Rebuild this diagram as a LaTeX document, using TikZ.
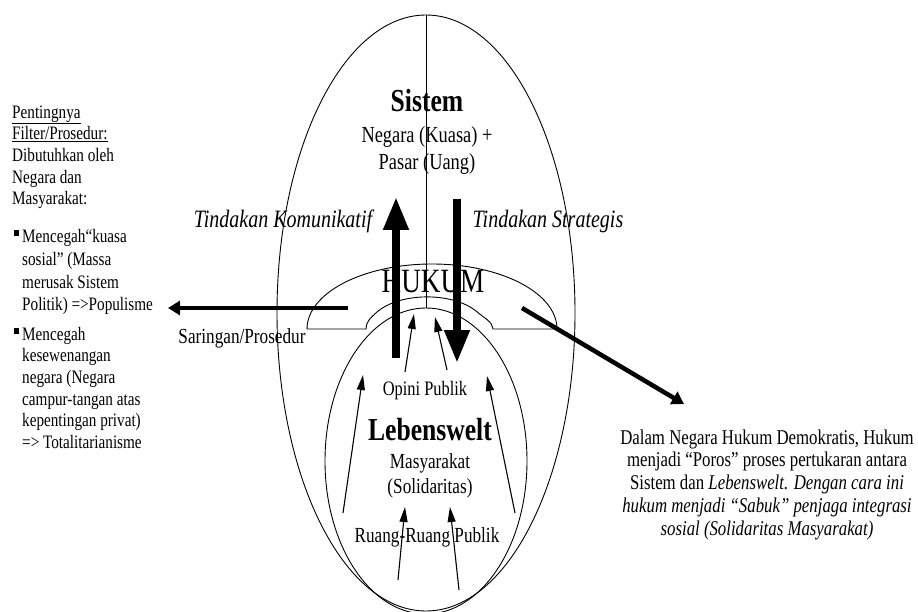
\documentclass[tikz,border=0pt]{standalone}
\usepackage{fontspec}
\setmainfont{Liberation Serif}[FakeStretch=0.8]
\usetikzlibrary{arrows.meta, shapes.geometric, positioning}

\begin{document}
\begin{tikzpicture}[x=1pt, y=-1pt,
    lbl/.style={inner sep=0pt, anchor=base, font=\fontsize{21.5}{25}\selectfont},
    ttl/.style={inner sep=0pt, anchor=base, font=\bfseries\fontsize{32}{36}\selectfont},
    act/.style={inner sep=0pt, anchor=base, font=\itshape\fontsize{25}{30}\selectfont},
    side/.style={inner sep=0pt, anchor=base west, align=left, font=\fontsize{19}{21.7}\selectfont},
    sq/.style={fill, inner sep=0pt, minimum width=4.5pt, minimum height=6pt},
    oval/.style={draw, ellipse, line width=0.9pt, inner sep=0pt, outer sep=0pt},
    fat/.style={line width=7.5pt, -{Triangle[length=33pt, width=24pt]}},
    flow/.style={line width=4.5pt, -{Triangle[length=12pt, width=14pt]}},
    feed/.style={line width=1.1pt, -{Triangle[length=15pt, width=8pt]}}]
                        \useasboundingbox (0,0) rectangle (918,612);

                        % ellipses
                        \node[oval, minimum width=298pt, minimum height=596pt] (sys) at (426,313) {};
                        \node[oval, minimum width=202pt, minimum height=306pt] (lw) at (426,461) {};
                        \draw[line width=0.9pt] (sys.north) -- (lw.north);

                        % hukum band
                        \draw[line width=0.9pt]
                        (307,329) arc[start angle=180, end angle=360, x radius=125, y radius=65]
                        -- (493,329) .. controls (493,322) and (484,318) .. (476,311)
                        arc[start angle=326, end angle=214, x radius=59, y radius=32]
                        .. controls (370,318) and (366,322) .. (366,329) -- cycle;

                        % multi-line nodes sit on the baseline of their last line
                        \node[ttl] (sis) at (427,112) {Sistem};
                        \node[lbl, align=center, font=\fontsize{23}{27}\selectfont] (neg) at (427,170) {Negara (Kuasa) +\\ Pasar (Uang)};
                        \node[act] (kom) at (283,228) {Tindakan Komunikatif};
                        \node[act] (str) at (548,228) {Tindakan Strategis};
                        \node[inner sep=0pt, anchor=base, font=\fontsize{34}{40}\selectfont] (huk) at (433,293) {HUKUM};
                        \node[lbl] (sar) at (242,343) {Saringan/Prosedur};
                        \node[lbl, font=\fontsize{20.5}{24}\selectfont] (opi) at (425,395) {Opini Publik};
                        \node[ttl] (leb) at (430,440) {Lebenswelt};
                        \node[lbl, align=center] (mas) at (430,493) {Masyarakat\\ (Solidaritas)};
                        \node[lbl] (rrp) at (427,542) {Ruang-Ruang Publik};

                        % left notes
                        \node[side] (pen) at (12,205) {\underline{Pentingnya}\\ \underline{Filter/Prosedur:}\\ Dibutuhkan oleh\\ Negara dan\\ Masyarakat:};
                        \node[side, font=\fontsize{19}{22.5}\selectfont] (pop) at (22,310.5) {Mencegah“kuasa\\ sosial” (Massa\\ merusak Sistem\\ Politik) =>Populisme};
                        \node[side] (tot) at (22,448.5) {Mencegah\\ kesewenangan\\ negara (Negara\\ campur-tangan atas\\ kepentingan privat)\\ => Totalitarianisme};
                        \node[sq] (b1) at (16.3,233.5) {};
                        \node[sq] (b2) at (16.3,330.5) {};

                        % right note
                        \node[inner sep=0pt, anchor=base, align=center, font=\fontsize{21}{22.8}\selectfont] (dnh) at (767,535.2)
                        {Dalam Negara Hukum Demokratis, Hukum\\ menjadi “Poros” proses pertukaran antara\\ Sistem dan \textit{Lebenswelt. Dengan cara ini}\\ \textit{hukum menjadi “Sabuk” penjaga integrasi}\\ \textit{sosial (Solidaritas Masyarakat)}};

                        % thick arrows
                        \coordinate (ka) at (396,358);
                        \coordinate (kb) at (396,197);
                        \coordinate (sa) at (457,199);
                        \coordinate (sb) at (457,363);
                        \draw[fat] (ka) -- (kb);
                        \draw[fat] (sa) -- (sb);

                        \coordinate (fa) at (348,308);
                        \coordinate (fb) at (168,308);
                        \coordinate (da) at (522,308);
                        \coordinate (db) at (684,404);
                        \draw[flow] (fa) -- (fb);
                        \draw[flow] (da) -- (db);

                        % thin arrows from below
                        \foreach \i/\sx/\sy/\ex/\ey in {1/343/513/363/375, 2/405/372/414/314, 3/447/370/435/317,
                                                        4/515/513/487/376, 5/398/580/405/507, 6/459/590/450/507}
                        {
                            \coordinate (p\i) at (\sx,\sy);
                            \coordinate (q\i) at (\ex,\ey);
                            \draw[feed] (p\i) -- (q\i);
                        }
                    \end{tikzpicture}
\end{document}
